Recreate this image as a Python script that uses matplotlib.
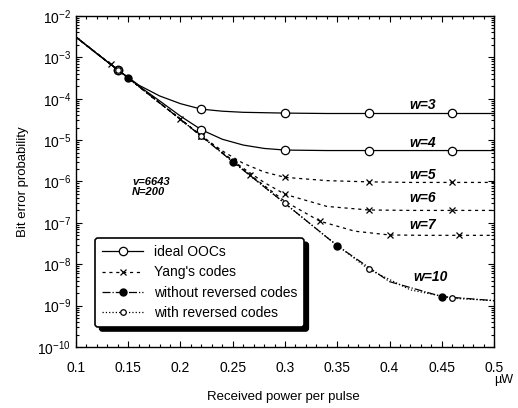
import matplotlib
matplotlib.use("Agg")
import matplotlib.pyplot as plt
from matplotlib.ticker import MultipleLocator, LogLocator, NullFormatter

plt.rcParams["font.family"] = ["Liberation Sans", "DejaVu Sans"]

# ideal OOCs, w=3 and w=4
x_ideal = [0.10, 0.12, 0.14, 0.16, 0.18, 0.20, 0.22, 0.24, 0.26, 0.28, 0.30,
           0.34, 0.38, 0.42, 0.46, 0.50]
ber_w3 = [3.1e-3, 1.23e-3, 5.0e-4, 2.14e-4, 1.17e-4, 7.6e-5, 5.6e-5, 5.0e-5,
          4.7e-5, 4.6e-5, 4.5e-5, 4.4e-5, 4.4e-5, 4.4e-5, 4.4e-5, 4.4e-5]
ber_w4 = [3.1e-3, 1.23e-3, 5.0e-4, 2.04e-4, 8.9e-5, 3.8e-5, 1.78e-5, 1.05e-5,
          7.6e-6, 6.3e-6, 5.75e-6, 5.6e-6, 5.6e-6, 5.6e-6, 5.6e-6, 5.6e-6]
mark_ideal = [2, 6, 10, 12, 14]

# Yang's codes, w=5 and w=6
x_yang = [0.10, 0.12, 0.14, 0.16, 0.18, 0.20, 0.22, 0.24, 0.26, 0.28, 0.30,
          0.34, 0.38, 0.42, 0.46, 0.50]
ber_w5 = [3.1e-3, 1.23e-3, 5.0e-4, 2.0e-4, 7.9e-5, 3.2e-5, 1.26e-5, 5.5e-6,
          2.75e-6, 1.7e-6, 1.26e-6, 1.05e-6, 9.8e-7, 9.5e-7, 9.5e-7, 9.5e-7]
ber_w6 = [3.1e-3, 1.23e-3, 5.0e-4, 2.0e-4, 7.9e-5, 3.2e-5, 1.26e-5, 5.0e-6,
          2.1e-6, 9.5e-7, 4.9e-7, 2.5e-7, 2.05e-7, 2.0e-7, 2.0e-7, 2.0e-7]
mark_yang = [2, 6, 10, 12, 14]

# Yang's codes, w=7
x_w7 = [0.10, 0.1333, 0.1667, 0.20, 0.2333, 0.2667, 0.30, 0.3333, 0.3667,
        0.40, 0.4333, 0.4667, 0.50]
ber_w7 = [3.1e-3, 6.8e-4, 1.48e-4, 3.2e-5, 6.8e-6, 1.45e-6, 3.3e-7, 1.1e-7,
          6.3e-8, 5.1e-8, 5.0e-8, 5.0e-8, 5.0e-8]
mark_w7 = [1, 3, 5, 7, 9, 11]

# w=10 without reversed codes
x_wo = [0.10, 0.15, 0.20, 0.25, 0.30, 0.35, 0.40, 0.45, 0.50]
ber_wo = [3.1e-3, 3.16e-4, 3.16e-5, 3.0e-6, 2.95e-7, 2.8e-8, 3.8e-9, 1.66e-9,
          1.32e-9]
mark_wo = [1, 3, 5, 7]

# w=10 with reversed codes
x_wr = [0.10, 0.14, 0.18, 0.22, 0.26, 0.30, 0.34, 0.38, 0.42, 0.46, 0.50]
ber_wr = [3.1e-3, 5.0e-4, 7.9e-5, 1.26e-5, 1.9e-6, 2.95e-7, 4.5e-8, 7.6e-9,
          2.4e-9, 1.51e-9, 1.32e-9]
mark_wr = [1, 3, 5, 7, 9]

x_ticks = [0.1, 0.15, 0.2, 0.25, 0.3, 0.35, 0.4, 0.45, 0.5]

# curve labels: text, x, y
curve_labels = [("w=3", 0.432, 7.0e-5), ("w=4", 0.432, 8.5e-6),
                ("w=5", 0.432, 1.42e-6), ("w=6", 0.432, 3.9e-7),
                ("w=7", 0.432, 8.7e-8), ("w=10", 0.439, 4.8e-9)]

fig = plt.figure(figsize=(5.18, 4.08), dpi=100)
ax = fig.add_axes([0.1467, 0.1495, 0.8070, 0.8113])

lw = 0.9
ax.plot(x_ideal, ber_w3, "-", color="k", lw=lw, marker="o", ms=6,
        mfc="white", mec="k", mew=0.9, markevery=mark_ideal, label="ideal OOCs")
ax.plot(x_ideal, ber_w4, "-", color="k", lw=lw, marker="o", ms=6,
        mfc="white", mec="k", mew=0.9, markevery=mark_ideal)

yang_style = dict(color="k", lw=lw, dashes=(2.5, 3), marker="x", ms=5, mew=0.9)
ax.plot(x_yang, ber_w5, markevery=mark_yang, label="Yang's codes", **yang_style)
ax.plot(x_yang, ber_w6, markevery=mark_yang, **yang_style)
ax.plot(x_w7, ber_w7, markevery=mark_w7, **yang_style)

ax.plot(x_wo, ber_wo, "-.", color="k", lw=lw, marker="o", ms=5, mfc="k",
        mec="k", markevery=mark_wo, label="without reversed codes")
ax.plot(x_wr, ber_wr, ":", color="k", lw=lw, marker="o", ms=4, mfc="white",
        mec="k", mew=0.9, markevery=mark_wr, label="with reversed codes")

ax.set_yscale("log")
ax.set_xlim(0.1, 0.5)
ax.set_ylim(1e-10, 1e-2)
ax.set_xticks(x_ticks)
ax.set_xticklabels([f"{t:g}" for t in x_ticks])
ax.xaxis.set_minor_locator(MultipleLocator(0.01))
ax.yaxis.set_major_locator(LogLocator(base=10, numticks=20))
ax.yaxis.set_minor_locator(LogLocator(base=10, subs=range(2, 10), numticks=100))
ax.yaxis.set_minor_formatter(NullFormatter())
ax.tick_params(which="both", direction="in", top=True, right=True,
               labelsize=10, width=0.8)
ax.tick_params(which="major", length=4)
ax.tick_params(which="minor", length=2)
ax.tick_params(axis="x", pad=10)
for s in ax.spines.values():
    s.set_linewidth(1.0)

ax.set_ylabel("Bit error probability", fontsize=9.5)
ax.yaxis.set_label_coords(-0.113, 0.5)
ax.set_xlabel("Received power per pulse", fontsize=9.5)
ax.xaxis.set_label_coords(0.495, -0.133)
ax.text(1.024, -0.1, "\u00b5W", transform=ax.transAxes, fontsize=9,
        ha="center", va="center")

for txt, xv, yv in curve_labels:
    ax.text(xv, yv, txt, fontsize=10, fontweight="bold", style="italic",
            ha="center", va="center")
ax.text(0.1536, 7.3e-7, "v=6643\nN=200", fontsize=8, fontweight="bold",
        style="italic", ha="left", va="center", linespacing=1.05)

leg = ax.legend(loc="lower left", bbox_to_anchor=(0.03, 0.04), fontsize=10,
                handlelength=2.9, frameon=True, framealpha=1, edgecolor="k",
                fancybox=True, borderpad=0.5, labelspacing=0.45,
                shadow={"color": "black", "alpha": 1.0, "ox": 3, "oy": -3})
leg.get_frame().set_linewidth(1.2)

fig.savefig("out.png", dpi=100)
